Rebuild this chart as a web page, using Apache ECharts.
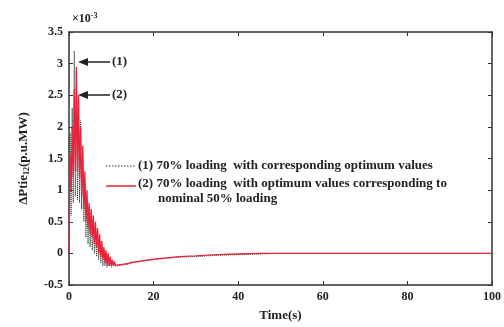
<!DOCTYPE html>
<html>
<head>
<meta charset="utf-8">
<script src="https://cdn.jsdelivr.net/npm/echarts@6/dist/echarts.min.js"></script>
<style>
  html, body { margin: 0; padding: 0; background: #fff; }
  #main { width: 504px; height: 327px; }
</style>
</head>
<body>
<div id="main"></div>
<script>
// time axis (s)
var times = [0, 0.25, 0.5, 0.75, 1, 1.25, 1.5, 1.75, 2, 2.25, 2.5, 2.75, 3, 3.25, 3.5, 3.75,
  4, 4.25, 4.5, 4.75, 5, 5.25, 5.5, 5.75, 6, 6.25, 6.5, 6.75, 7, 7.25, 7.5, 7.75,
  8, 8.25, 8.5, 8.75, 9, 9.25, 9.5, 9.75, 10, 10.25, 10.5, 10.75, 11,
  12, 13, 14, 15, 16, 18, 20, 23, 26, 30, 35, 40, 45, 50, 60, 70, 80, 90, 100];

// (1) 70% loading with corresponding optimum values  (x10^-3)
var loadOpt = [0, 1.9, 0.6, 2.3, 0.8, 3.2, 0.9, 2.9, 0.85, 2.5, 0.8, 2.1, 0.7, 1.6, 0.5, 1.1,
  0.25, 0.85, 0.15, 0.7, 0.1, 0.55, 0.05, 0.45, 0.0, 0.35, -0.05, 0.3, -0.1, 0.2, -0.15, 0.12,
  -0.2, 0.05, -0.2, 0.0, -0.22, -0.05, -0.2, -0.1, -0.22, -0.12, -0.2, -0.15, -0.2,
  -0.19, -0.18, -0.17, -0.15, -0.14, -0.12, -0.1, -0.08, -0.06, -0.05, -0.03, -0.02, -0.01, 0, 0, 0, 0, 0, 0];

// (2) 70% loading with optimum values corresponding to nominal 50% loading
var loadNom = [0, 1.6, 1.0, 2.0, 1.2, 2.6, 1.3, 2.95, 1.3, 2.5, 1.2, 2.0, 0.9, 1.7, 0.7, 1.3,
  0.5, 1.0, 0.4, 0.8, 0.3, 0.7, 0.25, 0.6, 0.15, 0.5, 0.1, 0.4, 0.0, 0.3, -0.05, 0.2,
  -0.1, 0.1, -0.15, 0.05, -0.18, 0.0, -0.2, -0.05, -0.2, -0.1, -0.2, -0.13, -0.19,
  -0.18, -0.17, -0.16, -0.14, -0.13, -0.11, -0.09, -0.07, -0.05, -0.04, -0.02, -0.01, 0, 0, 0, 0, 0, 0, 0];

function pairs(vals) {
  return times.map(function (t, i) { return [t, vals[i]]; });
}

var font = 'Liberation Serif';
var txt = { fontFamily: font, fontWeight: 'bold', fontSize: 12, color: '#222' };
var legTxt = { fontFamily: font, fontWeight: 'bold', fontSize: 13, fill: '#222' };
var frame = { onZero: false, lineStyle: { color: '#333', width: 1.5 } };
var tick = { inside: true, length: 4, lineStyle: { color: '#333' } };

var chart = echarts.init(document.getElementById('main'));
var option = {
  animation: false,
  backgroundColor: '#fff',
  grid: { left: 69, right: 9, top: 32, bottom: 31 },
  xAxis: [{
    type: 'value', min: 0, max: 100, interval: 20,
    name: 'Time(s)', nameLocation: 'middle', nameGap: 24,
    nameTextStyle: { fontFamily: font, fontWeight: 'bold', fontSize: 13, color: '#222' },
    axisLine: frame, axisTick: tick,
    axisLabel: Object.assign({ margin: 6 }, txt),
    splitLine: { show: false }
  }, {
    type: 'value', min: 0, max: 100, interval: 20, position: 'top',
    axisLine: frame, axisTick: tick,
    axisLabel: { show: false }, splitLine: { show: false }
  }],
  yAxis: [{
    type: 'value', min: -0.5, max: 3.5, interval: 0.5,
    name: '{a|ΔPtie}{s|12}{a|(p.u.MW)}', nameLocation: 'middle', nameGap: 38,
    nameTextStyle: {
      rich: {
        a: { fontFamily: font, fontWeight: 'bold', fontSize: 13, color: '#222' },
        s: { fontFamily: font, fontWeight: 'bold', fontSize: 8, color: '#222', verticalAlign: 'bottom', padding: [6, 0, 0, 0] }
      }
    },
    axisLine: frame, axisTick: tick,
    axisLabel: Object.assign({ margin: 6 }, txt),
    splitLine: { show: false }
  }, {
    type: 'value', min: -0.5, max: 3.5, interval: 0.5, position: 'right',
    axisLine: frame, axisTick: tick,
    axisLabel: { show: false }, splitLine: { show: false }
  }],
  series: [{
    name: '(1)', type: 'line', showSymbol: false, data: pairs(loadOpt),
    lineStyle: { color: '#1f3d30', width: 1, type: 'dotted' }
  }, {
    name: '(2)', type: 'line', showSymbol: false, data: pairs(loadNom),
    lineStyle: { color: '#e8243a', width: 1.3 }
  }],
  graphic: [
    { type: 'text', left: 72, top: 12, style: { text: '{a|×10}{s|-3}', rich: {
        a: { fontFamily: font, fontWeight: 'bold', fontSize: 12, fill: '#222' },
        s: { fontFamily: font, fontWeight: 'bold', fontSize: 8, fill: '#222', verticalAlign: 'top', padding: [0, 0, 6, 0] } } } },
    // arrow (1)
    { type: 'line', shape: { x1: 82, y1: 62, x2: 110, y2: 62 }, style: { stroke: '#222', lineWidth: 1.5 } },
    { type: 'polygon', shape: { points: [[78, 62], [88, 58], [88, 66]] }, style: { fill: '#222' } },
    { type: 'text', left: 112, top: 55, style: Object.assign({}, legTxt, { text: '(1)' }) },
    // arrow (2)
    { type: 'line', shape: { x1: 82, y1: 95, x2: 110, y2: 95 }, style: { stroke: '#222', lineWidth: 1.5 } },
    { type: 'polygon', shape: { points: [[78, 95], [88, 91], [88, 99]] }, style: { fill: '#222' } },
    { type: 'text', left: 112, top: 88, style: Object.assign({}, legTxt, { text: '(2)' }) },
    // legend
    { type: 'line', shape: { x1: 106, y1: 166, x2: 136, y2: 166 }, style: { stroke: '#1f3d30', lineWidth: 1, lineDash: [1.5, 1.5] } },
    { type: 'text', left: 138, top: 159, style: Object.assign({}, legTxt, { text: '(1) 70% loading  with corresponding optimum values' }) },
    { type: 'line', shape: { x1: 106, y1: 186, x2: 136, y2: 186 }, style: { stroke: '#e8243a', lineWidth: 1.5 } },
    { type: 'text', left: 138, top: 177, style: Object.assign({}, legTxt, { text: '(2) 70% loading  with optimum values corresponding to' }) },
    { type: 'text', left: 158, top: 192, style: Object.assign({}, legTxt, { text: 'nominal 50% loading' }) }
  ]
};
chart.setOption(option);
</script>
</body>
</html>
